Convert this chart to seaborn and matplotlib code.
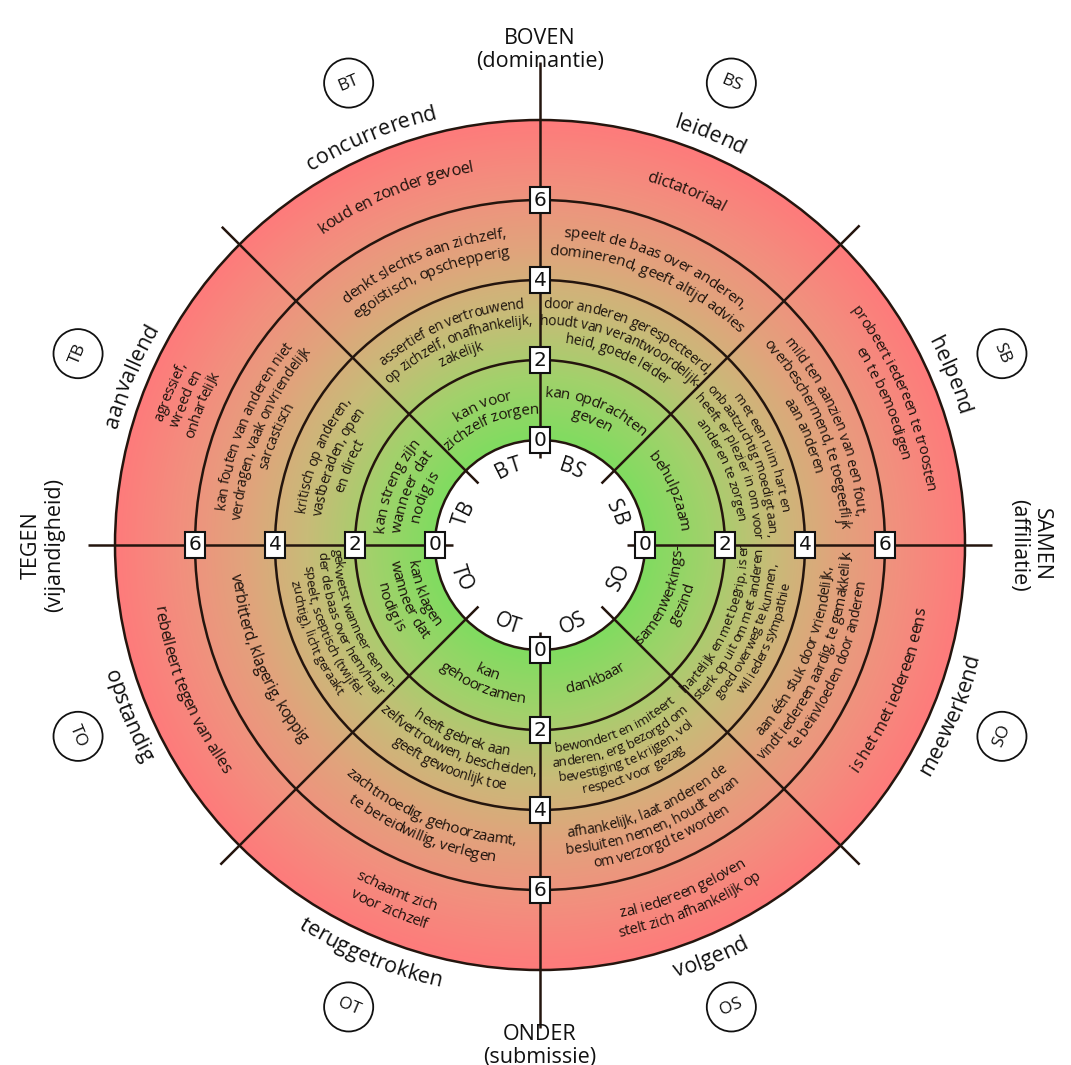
import numpy as np
import pandas as pd
import matplotlib
matplotlib.use("Agg")
import matplotlib.pyplot as plt
import seaborn as sns
from matplotlib.patches import Circle
from matplotlib.textpath import TextToPath
from matplotlib.font_manager import FontProperties

# ---------------- data ----------------
sectors = ["BT", "BS", "SB", "SO", "OS", "OT", "TO", "TB"]
sector_angles = [112.5, 67.5, 22.5, -22.5, -67.5, -112.5, -157.5, 157.5]
sector_names = ["concurrerend", "leidend", "helpend", "meewerkend",
                "volgend", "teruggetrokken", "opstandig", "aanvallend"]
ring_levels = [0, 2, 4, 6]
outer_level = 8

axis_titles = {
    "top": ["BOVEN", "(dominantie)"],
    "bottom": ["ONDER", "(submissie)"],
    "left": ["TEGEN", "(vijandigheid)"],
    "right": ["SAMEN", "(affiliatie)"],
}

ring1_texts = [
    ["kan voor", "zichzelf zorgen"],
    ["kan opdrachten", "geven"],
    ["behulpzaam"],
    ["samenwerkings-", "gezind"],
    ["dankbaar"],
    ["kan", "gehoorzamen"],
    ["kan klagen", "wanneer dat", "nodig is"],
    ["kan streng zijn", "wanneer dat", "nodig is"],
]
ring2_texts = [
    ["assertief en vertrouwend", "op zichzelf, onafhankelijk,", "zakelijk"],
    ["door anderen gerespecteerd,", "houdt van verantwoordelijk-", "heid, goede leider"],
    ["met een ruim hart en", "onbaatzuchtig moedigt aan,", "heeft er plezier in om voor", "anderen te zorgen"],
    ["hartelijk en met begrip, is er", "sterk op uit om met anderen", "goed overweg te kunnen,", "wil ieders sympathie"],
    ["bewondert en imiteert", "anderen, erg bezorgd om", "bevestiging te krijgen, vol", "respect voor gezag"],
    ["heeft gebrek aan", "zelfvertrouwen, bescheiden,", "geeft gewoonlijk toe"],
    ["gekwetst wanneer een an-", "der de baas over hem/haar", "speelt, sceptisch (twijfel-", "zuchtig), licht geraakt"],
    ["kritisch op anderen,", "vastberaden, open", "en direct"],
]
ring3_texts = [
    ["denkt slechts aan zichzelf,", "egoistisch, opschepperig"],
    ["speelt de baas over anderen,", "dominerend, geeft altijd advies"],
    ["mild ten aanzien van een fout,", "overbeschermend, te toegeeflijk", "aan anderen"],
    ["aan één stuk door vriendelijk,", "vindt iedereen aardig, te gemakkelijk", "te beïnvloeden door anderen"],
    ["afhankelijk, laat anderen de", "besluiten nemen, houdt ervan", "om verzorgd te worden"],
    ["zachtmoedig, gehoorzaamt,", "te bereidwillig, verlegen"],
    ["verbitterd, klagerig, koppig"],
    ["kan fouten van anderen niet", "verdragen, vaak onvriendelijk", "sarcastisch"],
]
ring4_texts = [
    ["koud en zonder gevoel"],
    ["dictatoriaal"],
    ["probeert iedereen te troosten", "en te bemoedigen"],
    ["is het met iedereen eens"],
    ["zal iedereen geloven", "stelt zich afhankelijk op"],
    ["schaamt zich", "voor zichzelf"],
    ["rebelleert tegen van alles"],
    ["agressief,", "wreed en", "onhartelijk"],
]

grad_colors = ["#80dc60", "#a2d16b", "#c8bb78", "#e1a37c", "#f28f7e", "#fe7b7b"]

# ---------------- layout / style ----------------
sns.set_theme(style="white")
plt.rcParams["font.family"] = ["Open Sans", "DejaVu Sans"]

W, H, DPI = 1071, 1065, 100
CX, CY = 540, 545
R0, RSTEP = 105, 40
LINE = "#24150e"
TXT = "#1c120c"


def lvl_r(level):
    return R0 + RSTEP * level


fig = plt.figure(figsize=(W / DPI, H / DPI), dpi=DPI)
fig.patch.set_facecolor("white")
ax = fig.add_axes([0, 0, 1, 1])

# radial gradient band
cmap = sns.blend_palette(grad_colors, as_cmap=True)
xs = np.arange(W) + 0.5
ys = np.arange(H) + 0.5
XX, YY = np.meshgrid(xs, ys)
RR = np.hypot(XX - CX, YY - CY)
r_in, r_out = lvl_r(ring_levels[0]), lvl_r(outer_level)
tt = np.clip((RR - r_in) / (r_out - r_in), 0, 1)
rgba = cmap(tt)
rgba[..., 3] = ((RR >= r_in) & (RR <= r_out)).astype(float)
ax.imshow(rgba, extent=(0, W, H, 0), origin="upper", interpolation="bilinear", zorder=0)
ax.set_xlim(0, W)
ax.set_ylim(H, 0)
ax.set_aspect("auto")
ax.axis("off")

# ring circles
for lv in ring_levels + [outer_level]:
    ax.add_patch(Circle((CX, CY), lvl_r(lv), fill=False, ec=LINE, lw=1.8, zorder=2))


def pol(r, th):
    return CX + r * np.cos(np.radians(th)), CY - r * np.sin(np.radians(th))


# axis and sector lines
for ang, rend in [(0, 452), (180, 452), (90, 483), (270, 483),
                  (45, 452), (135, 450), (225, 452), (315, 452)]:
    x0, y0 = pol(87, ang)
    x1, y1 = pol(rend, ang)
    ax.plot([x0, x1], [y0, y1], color=LINE, lw=1.8, zorder=2, solid_capstyle="butt")

# number boxes
for ang in [0, 90, 180, 270]:
    for lv in ring_levels:
        x, y = pol(lvl_r(lv), ang)
        ax.text(x, y, str(lv), ha="center", va="center", fontsize=14.5, family="DejaVu Sans",
                color="#111", zorder=5,
                bbox=dict(boxstyle="square,pad=0.16", fc="white", ec="#111", lw=1.5))

# curved text helpers
t2p = TextToPath()
_cache = {}


def adv(s, fp):
    key = (s, fp.get_size_in_points(), tuple(fp.get_family()))
    if key not in _cache:
        w1 = t2p.get_text_width_height_descent("." + s + ".", fp, ismath=False)[0]
        w0 = t2p.get_text_width_height_descent("..", fp, ismath=False)[0]
        _cache[key] = (w1 - w0) * DPI / 72.0
    return _cache[key]


def arc_line(s, r_center, theta_c, fp, upper, color=TXT, track=1.0):
    fs_px = fp.get_size_in_points() * DPI / 72.0
    rb = r_center - 0.34 * fs_px if upper else r_center + 0.34 * fs_px
    L = adv(s, fp) * track
    for k, ch in enumerate(s):
        if ch == " ":
            continue
        c = (adv(s[:k], fp) + adv(s[:k + 1], fp)) / 2 * track - L / 2
        dth = np.degrees(c / rb)
        th = theta_c - dth if upper else theta_c + dth
        x, y = pol(rb, th)
        rot = th - 90 if upper else th + 90
        ax.text(x, y, ch, rotation=rot, rotation_mode="anchor", ha="center", va="baseline",
                fontproperties=fp, color=color, zorder=4)


def arc_block(lines, r_mid, theta_c, fp, lh, color=TXT, track=1.0):
    upper = np.sin(np.radians(theta_c)) > 0
    n = len(lines)
    for i, s in enumerate(lines):
        off = ((n - 1) / 2 - i) * lh
        r = r_mid + off if upper else r_mid - off
        arc_line(s, r, theta_c, fp, upper, color, track)


def ring_style(ring, n):
    if ring == 1:
        return 11, 17
    if ring == 2:
        return (9.6, 15) if n >= 4 else (10, 17)
    if ring == 3:
        return {1: (11.3, 17), 2: (11, 19)}.get(n, (10.3, 17))
    return {1: (11.8, 17), 2: (10.8, 19)}.get(n, (10.5, 17))


fp_inner = FontProperties(family="Open Sans", size=15)
fp_outer = FontProperties(family="Open Sans", size=15.5)

for i, th in enumerate(sector_angles):
    for ring, texts, (a, b) in [(1, ring1_texts, (0, 2)), (2, ring2_texts, (2, 4)),
                                (3, ring3_texts, (4, 6)), (4, ring4_texts, (6, 8))]:
        lines = texts[i]
        size, lh = ring_style(ring, len(lines))
        fp = FontProperties(family="Open Sans", size=size)
        arc_block(lines, (lvl_r(a) + lvl_r(b)) / 2, th, fp, lh, track=0.95)
    # inner abbreviations
    arc_line(sectors[i], 84, th, fp_inner, np.sin(np.radians(th)) > 0, color="#111")
    # sector names outside the rose
    arc_line(sector_names[i], 446, th, fp_outer, np.sin(np.radians(th)) > 0, color="#111")

# circled abbreviations outside
circ = pd.DataFrame({
    "x": [pol(500, th)[0] for th in sector_angles],
    "y": [pol(500, th)[1] for th in sector_angles],
    "code": sectors,
})
sns.scatterplot(data=circ, x="x", y="y", ax=ax, s=1250, facecolor="none",
                edgecolor="#111", linewidth=1.3, legend=False, zorder=3)
for (_, row), th in zip(circ.iterrows(), sector_angles):
    rot = th - 90 if np.sin(np.radians(th)) > 0 else th + 90
    ax.text(row["x"], row["y"], row["code"], ha="center", va="center", rotation=rot,
            rotation_mode="anchor", fontsize=12.5, color="#111", zorder=4)

ax.set_xlim(0, W)
ax.set_ylim(H, 0)
ax.axis("off")

# axis titles
ax.text(540, 50, "\n".join(axis_titles["top"]), ha="center", va="center", fontsize=15.5,
        color="#111", linespacing=1.15, multialignment="center")
ax.text(540, 1046, "\n".join(axis_titles["bottom"]), ha="center", va="center", fontsize=15.5,
        color="#111", linespacing=1.15, multialignment="center")
ax.text(43, 545, "\n".join(axis_titles["left"]), ha="center", va="center", fontsize=15.5,
        rotation=90, color="#111", linespacing=1.15, multialignment="center")
ax.text(1030, 545, "\n".join(axis_titles["right"]), ha="center", va="center", fontsize=15.5,
        rotation=-90, color="#111", linespacing=1.15, multialignment="center")

fig.savefig("out.png", dpi=DPI, facecolor="white")
